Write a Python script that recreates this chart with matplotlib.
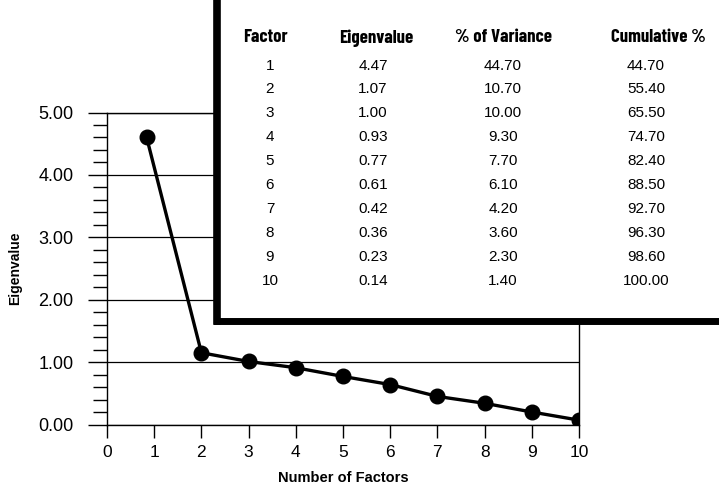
import matplotlib
matplotlib.use("Agg")
from matplotlib import pyplot as plt
from matplotlib.patches import Rectangle
from matplotlib.lines import Line2D
from matplotlib.ticker import MultipleLocator

plt.rcParams['font.family'] = ['Liberation Sans', 'DejaVu Sans']

# scree plot points as drawn
factor_x = [0.84, 2, 3, 4, 5, 6, 7, 8, 9, 10]
eigen_y = [4.60, 1.15, 1.01, 0.91, 0.77, 0.64, 0.45, 0.34, 0.20, 0.07]

# table contents
headers = ['Factor', 'Eigenvalue', '% of Variance', 'Cumulative %']
factors = ['1', '2', '3', '4', '5', '6', '7', '8', '9', '10']
eigenvalues = ['4.47', '1.07', '1.00', '0.93', '0.77', '0.61', '0.42', '0.36', '0.23', '0.14']
pct_var = ['44.70', '10.70', '10.00', '9.30', '7.70', '6.10', '4.20', '3.60', '2.30', '1.40']
cum_pct = ['44.70', '55.40', '65.50', '74.70', '82.40', '88.50', '92.70', '96.30', '98.60', '100.00']

W, H = 719, 490
fig = plt.figure(figsize=(W / 100, H / 100), dpi=100)
ax = fig.add_axes([107 / W, 1 - 424.5 / H, (579 - 107) / W, (424.5 - 112.5) / H])

ax.plot(factor_x, eigen_y, color='black', lw=2.4, marker='o', ms=10.5, zorder=3)
ax.set_xlim(0, 10)
ax.set_ylim(0, 5)
ax.set_xticks(range(0, 11))
ax.set_yticks([0, 1, 2, 3, 4, 5])
ax.set_yticklabels(['0.00', '1.00', '2.00', '3.00', '4.00', '5.00'])
ax.yaxis.set_minor_locator(MultipleLocator(0.2))
ax.grid(axis='y', color='black', lw=0.9)
for s in ax.spines.values():
    s.set_linewidth(1.0)
ax.tick_params(axis='y', which='major', length=14, width=1.0, pad=10, labelsize=13)
ax.tick_params(axis='y', which='minor', length=10, width=1.0)
ax.tick_params(axis='x', which='major', length=9, width=1.0, pad=6, labelsize=12.5)
ax.set_ylabel('Eigenvalue', fontsize=10, fontweight='bold', labelpad=12)
ax.set_xlabel('Number of Factors', fontsize=10.5, fontweight='bold', labelpad=8)

# table panel over the top right
x0 = 216.5 / W
y0 = 1 - 321 / H
fig.add_artist(Rectangle((x0, y0), 1 - x0 + 0.01, 1 - y0 + 0.01, transform=fig.transFigure,
                         facecolor='white', edgecolor='none', zorder=5))
fig.add_artist(Line2D([x0, x0], [y0, 1.01], transform=fig.transFigure, color='black',
                      lw=5.5, solid_capstyle='projecting', zorder=6))
fig.add_artist(Line2D([x0, 1.01], [y0, y0], transform=fig.transFigure, color='black',
                      lw=5.0, solid_capstyle='projecting', zorder=6))

head_x = [265, 376, 503, 658]
body_x = [270, 373, 503, 646]
cond = ['Barlow Condensed', 'Roboto Condensed', 'Asap Condensed', 'DejaVu Sans']
for cx, h in zip(head_x, headers):
    fig.text(cx / W, 1 - 38 / H, h, ha='center', va='center', fontsize=13.5,
             fontweight='bold', family=cond, fontstretch='condensed', zorder=7)
for i in range(len(factors)):
    yy = 1 - (65.5 + i * 23.9) / H
    row = [factors[i], eigenvalues[i], pct_var[i], cum_pct[i]]
    for cx, t in zip(body_x, row):
        fig.text(cx / W, yy, t, ha='center', va='center', fontsize=11, zorder=7)

fig.savefig('out.png', dpi=100)
